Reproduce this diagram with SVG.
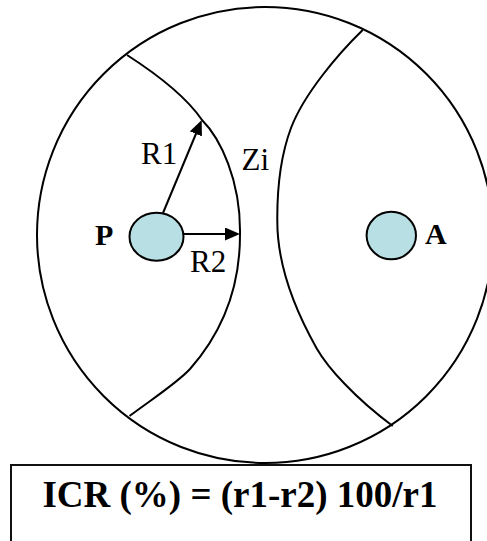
<svg xmlns="http://www.w3.org/2000/svg" width="487" height="541" viewBox="0 0 487 541">
<style>
.ln{fill:none;stroke:#000;stroke-width:2}
.dot{fill:#b8dfe3;stroke:#000;stroke-width:2}
.lbl{font-family:"Liberation Serif","Times New Roman",serif;font-size:31px;fill:#000}
.b{font-weight:bold;font-size:30px}
</style>
<defs>
<marker id="ah" markerUnits="userSpaceOnUse" viewBox="0 0 15 13" refX="8" refY="6.5" markerWidth="15" markerHeight="13" orient="auto">
<path d="M0,0 L15,6.5 L0,13 z" fill="#000"/>
</marker>
</defs>
<g id="outer"><circle class="ln" cx="265" cy="235" r="228"/></g>
<g id="zoneP"><path class="ln" d="M127,55 C155,73 185,95 202,120 C220,138 241,180 240,235 C240,290 220,335 190,369 C177,383 155,397 129.5,416"/></g>
<g id="zoneA"><path class="ln" d="M362.7,30 C338,54 304,94 291,128 C282,152 277,185 277.3,221 C277.3,265 295,310 316.7,348.4 C328,368 355,398 392.7,426"/></g>
<g id="P"><ellipse class="dot" cx="156.5" cy="236.7" rx="27" ry="24"/><text class="lbl b" x="95" y="245">P</text></g>
<g id="A"><ellipse class="dot" cx="391.3" cy="235.5" rx="24.7" ry="23.8"/><text class="lbl b" x="425" y="244">A</text></g>
<g id="connectors">
<line class="ln" x1="163" y1="213" x2="199" y2="126.5" marker-end="url(#ah)"/>
<line class="ln" x1="183.5" y1="234" x2="233" y2="234" marker-end="url(#ah)"/>
</g>
<g id="labels">
<text class="lbl" x="141" y="164">R1</text>
<text class="lbl" x="241.5" y="170">Zi</text>
<text class="lbl" x="190" y="272">R2</text>
</g>
<g id="formula">
<rect x="11" y="465" width="460" height="85" fill="none" stroke="#111" stroke-width="2"/>
<text class="lbl" x="240" y="507" text-anchor="middle" style="font-weight:bold;font-size:37px">ICR (%) = (r1-r2) 100/r1</text>
</g>
</svg>
